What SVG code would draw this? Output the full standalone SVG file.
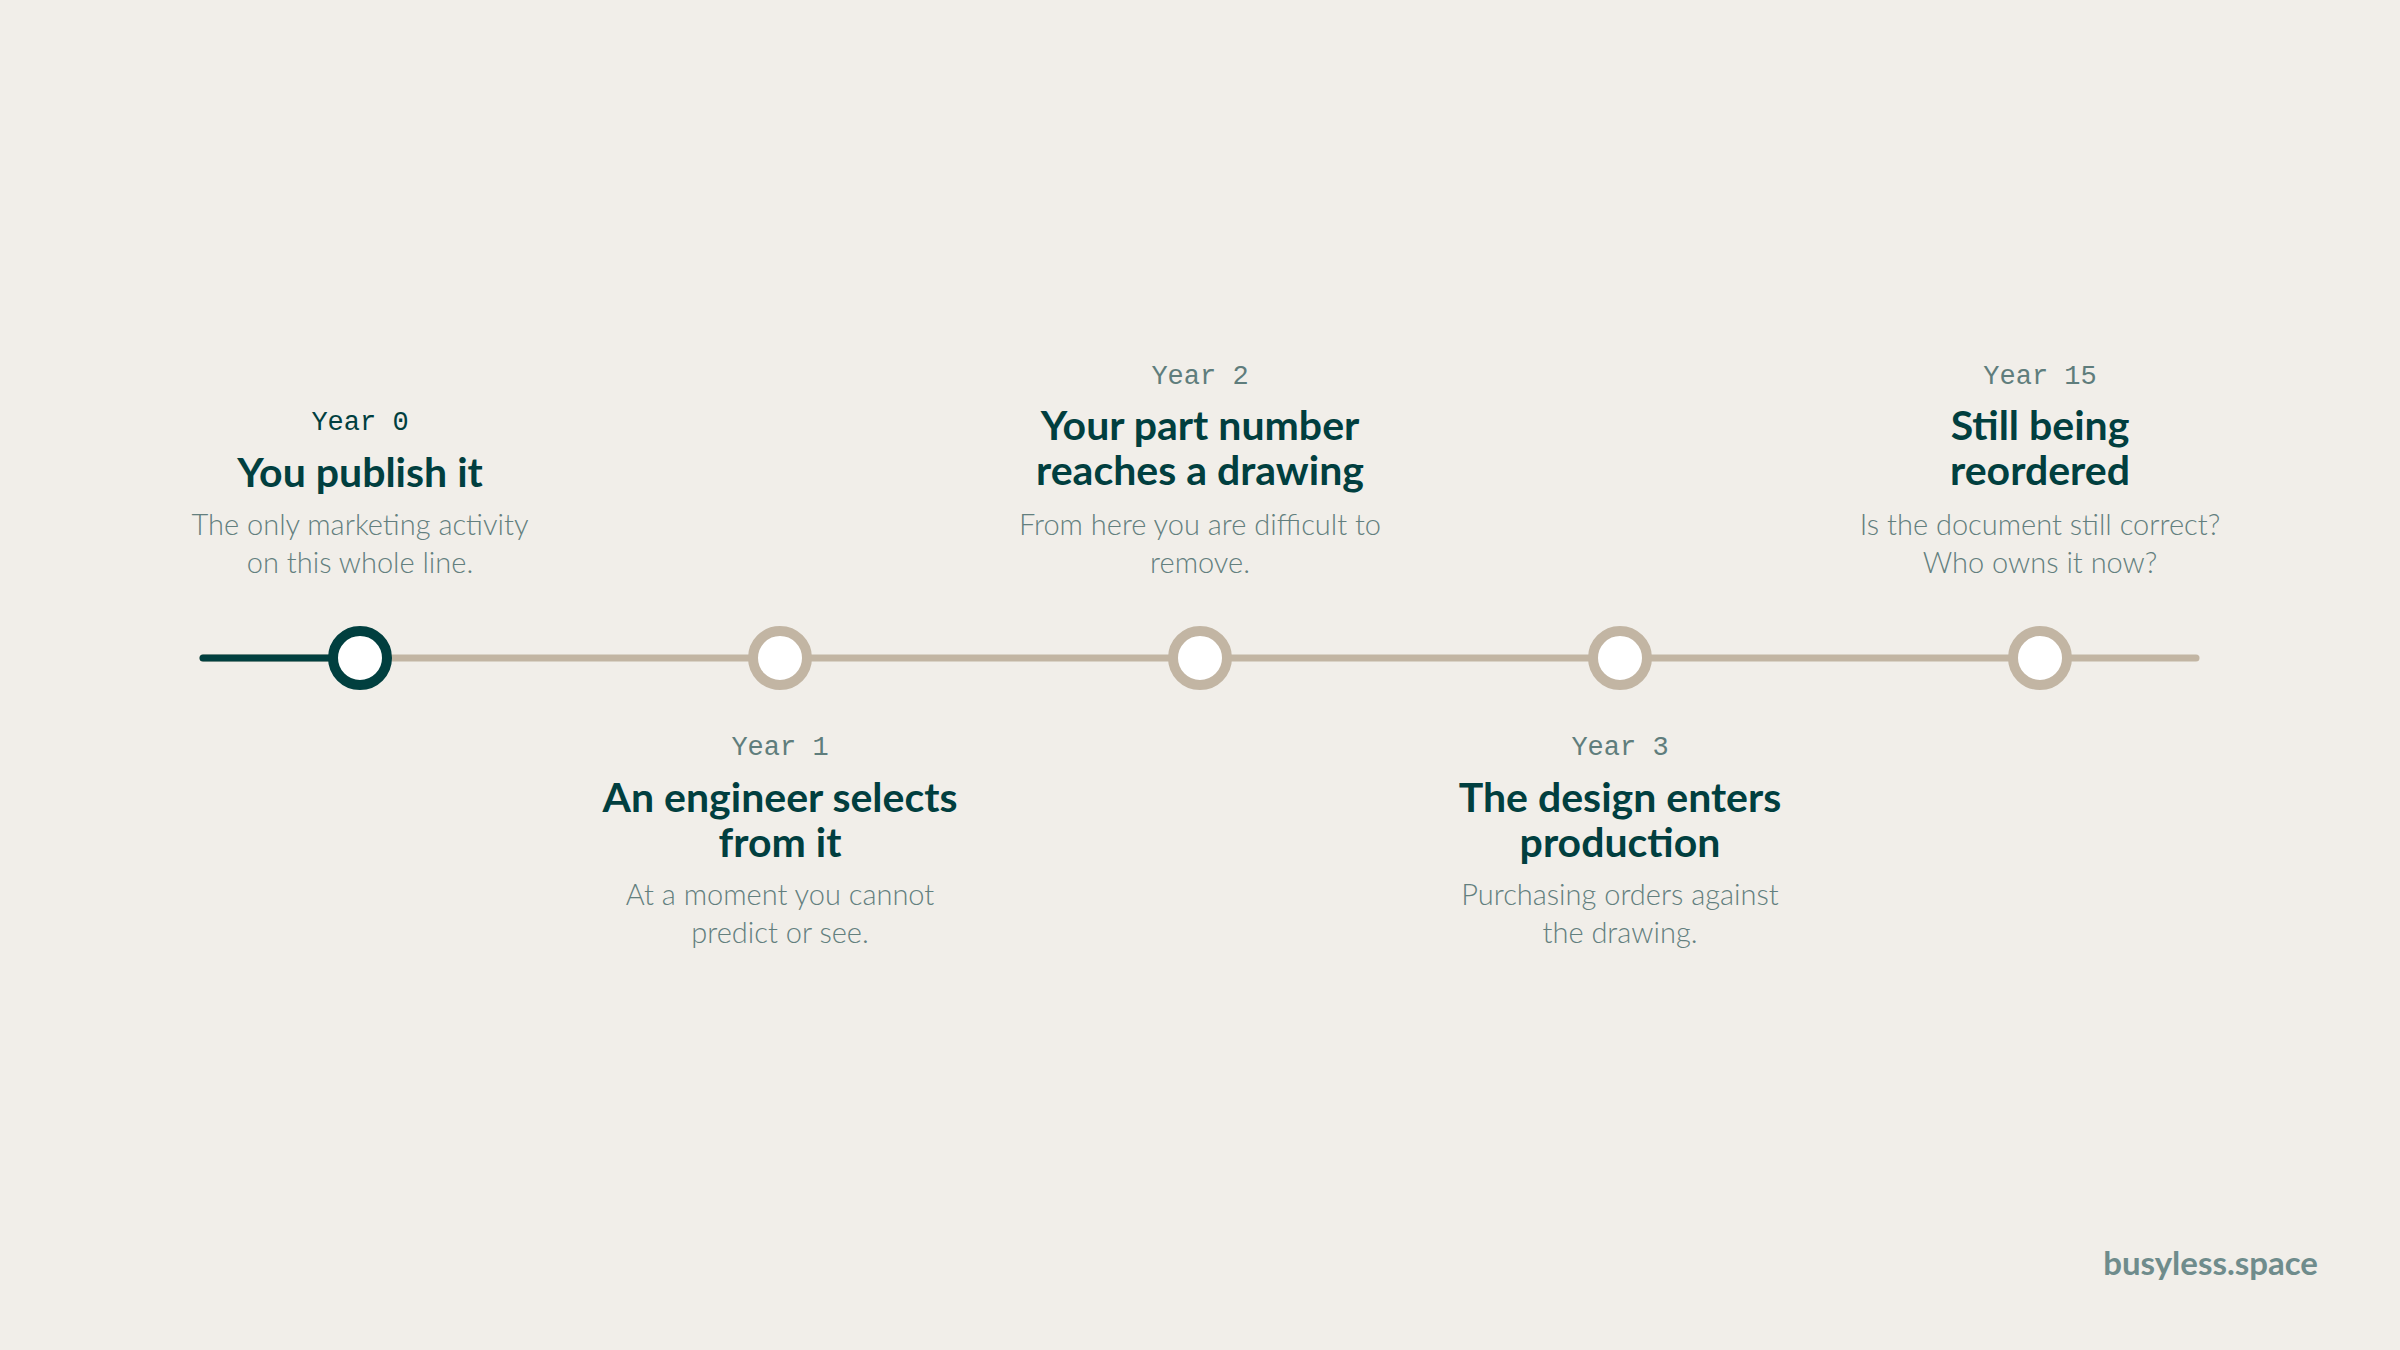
<svg xmlns="http://www.w3.org/2000/svg" width="2400" height="1350" viewBox="0 0 2400 1350">
<style>
.yr{font-family:"Liberation Mono","DejaVu Sans Mono",monospace;font-size:27px;fill:#5F7D7C;text-anchor:middle}
.yr.on{fill:#013F3F}
.tt{font-family:Lato,"Noto Sans",sans-serif;font-weight:700;font-size:41px;fill:#013F3F;text-anchor:middle}
.ds{font-family:Lato,"Noto Sans",sans-serif;font-weight:300;font-size:29px;fill:#637F7E;text-anchor:middle}
.dot{fill:#FFFFFF;stroke:#C2B5A3;stroke-width:10}
.dot.on{stroke:#013F3F}
</style>
<rect width="2400" height="1350" fill="#F1EEE9"/>
<g id="connectors">
<line x1="203" y1="658" x2="2196" y2="658" stroke="#C2B5A3" stroke-width="7" stroke-linecap="round"/>
<line x1="203" y1="658" x2="360" y2="658" stroke="#013F3F" stroke-width="7" stroke-linecap="round"/>
</g>
<g id="node-year0">
<circle class="dot on" cx="360" cy="658" r="27"/>
<text class="yr on" x="360" y="430">Year 0</text>
<text class="tt" x="360" y="487">You publish it</text>
<text class="ds" x="360" y="535">The only marketing activity</text>
<text class="ds" x="360" y="573">on this whole line.</text>
</g>
<g id="node-year1">
<circle class="dot" cx="780" cy="658" r="27"/>
<text class="yr" x="780" y="755">Year 1</text>
<text class="tt" x="780" y="812">An engineer selects</text>
<text class="tt" x="780" y="857">from it</text>
<text class="ds" x="780" y="905">At a moment you cannot</text>
<text class="ds" x="780" y="943">predict or see.</text>
</g>
<g id="node-year2">
<circle class="dot" cx="1200" cy="658" r="27"/>
<text class="yr" x="1200" y="384">Year 2</text>
<text class="tt" x="1200" y="440">Your part number</text>
<text class="tt" x="1200" y="485">reaches a drawing</text>
<text class="ds" x="1200" y="535">From here you are difficult to</text>
<text class="ds" x="1200" y="573">remove.</text>
</g>
<g id="node-year3">
<circle class="dot" cx="1620" cy="658" r="27"/>
<text class="yr" x="1620" y="755">Year 3</text>
<text class="tt" x="1620" y="812">The design enters</text>
<text class="tt" x="1620" y="857">production</text>
<text class="ds" x="1620" y="905">Purchasing orders against</text>
<text class="ds" x="1620" y="943">the drawing.</text>
</g>
<g id="node-year15">
<circle class="dot" cx="2040" cy="658" r="27"/>
<text class="yr" x="2040" y="384">Year 15</text>
<text class="tt" x="2040" y="440">Still being</text>
<text class="tt" x="2040" y="485">reordered</text>
<text class="ds" x="2040" y="535">Is the document still correct?</text>
<text class="ds" x="2040" y="573">Who owns it now?</text>
</g>
<text x="2318" y="1275" font-family="Lato,'Noto Sans',sans-serif" font-weight="700" font-size="33" fill="#6F8C8C" text-anchor="end">busyless.space</text>
</svg>
